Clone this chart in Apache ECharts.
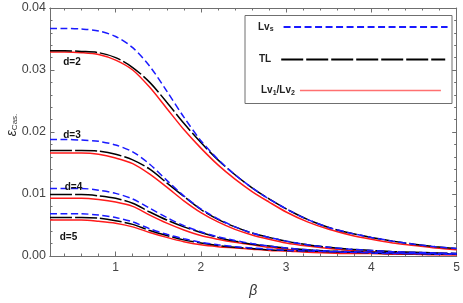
<!DOCTYPE html>
<html>
<head>
<meta charset="utf-8">
<script src="https://cdn.jsdelivr.net/npm/echarts@6/dist/echarts.min.js"></script>
<style>
html,body{margin:0;padding:0;background:#fff;}
#c{width:463px;height:303px;}
</style>
</head>
<body>
<div id="c"></div>
<script>
// ---- data ----
const beta = [0.23, 0.4, 0.6, 0.8, 1.0, 1.2, 1.4, 1.6, 1.8, 2.0, 2.2, 2.4, 2.6, 2.8, 3.0, 3.25, 3.5, 3.75, 4.0, 4.25, 4.5, 4.75, 5.0];

const lvs_d2 = [0.0367, 0.0367, 0.0366, 0.0363, 0.0354, 0.0336, 0.0306, 0.0266, 0.0224, 0.0186, 0.0156, 0.0131, 0.0110, 0.0092, 0.0076, 0.0059, 0.0046, 0.0037, 0.0030, 0.0024, 0.0019, 0.0015, 0.0012];
const tl_d2  = [0.0331, 0.0331, 0.0330, 0.0328, 0.0320, 0.0304, 0.0280, 0.0248, 0.0214, 0.0183, 0.0155, 0.0131, 0.0110, 0.0092, 0.0076, 0.0059, 0.0046, 0.0037, 0.0030, 0.0024, 0.0019, 0.0015, 0.0012];
const lv12_d2 = [0.0329, 0.0329, 0.0328, 0.0325, 0.0316, 0.0300, 0.0272, 0.0238, 0.0204, 0.0174, 0.0147, 0.0124, 0.0104, 0.0087, 0.0071, 0.0055, 0.0043, 0.0034, 0.0027, 0.0021, 0.0017, 0.0013, 0.0010];

const lvs_d3 = [0.0188, 0.0188, 0.0187, 0.0185, 0.0179, 0.0168, 0.0148, 0.0122, 0.0097, 0.0076, 0.0060, 0.0047, 0.0037, 0.0030, 0.0024, 0.0018, 0.0014, 0.0011, 0.0009, 0.0007, 0.0006, 0.0005, 0.0004];
const tl_d3  = [0.0170, 0.0170, 0.0170, 0.0169, 0.0164, 0.0155, 0.0140, 0.0118, 0.0096, 0.0075, 0.0059, 0.0047, 0.0037, 0.0030, 0.0024, 0.0018, 0.0014, 0.0011, 0.0009, 0.0007, 0.0006, 0.0005, 0.0004];
const lv12_d3 = [0.0166, 0.0166, 0.0166, 0.0164, 0.0158, 0.0149, 0.0132, 0.0111, 0.0089, 0.0070, 0.0055, 0.0043, 0.0034, 0.0027, 0.0021, 0.0016, 0.0012, 0.0009, 0.0007, 0.0006, 0.0005, 0.0004, 0.0003];

const lvs_d4 = [0.0109, 0.0109, 0.0109, 0.0106, 0.0101, 0.0092, 0.0077, 0.0062, 0.0049, 0.0039, 0.0031, 0.0025, 0.0020, 0.0016, 0.0013, 0.0010, 0.0008, 0.0007, 0.0006, 0.0005, 0.0004, 0.0004, 0.0003];
const tl_d4  = [0.0099, 0.0099, 0.0099, 0.0097, 0.0093, 0.0085, 0.0071, 0.0058, 0.0047, 0.0038, 0.0030, 0.0024, 0.0019, 0.0016, 0.0013, 0.0010, 0.0008, 0.0007, 0.0006, 0.0005, 0.0004, 0.0004, 0.0003];
const lv12_d4 = [0.0093, 0.0093, 0.0093, 0.0091, 0.0087, 0.0080, 0.0066, 0.0053, 0.0042, 0.0033, 0.0027, 0.0022, 0.0018, 0.0014, 0.0011, 0.0009, 0.0007, 0.0006, 0.0005, 0.0004, 0.0003, 0.0003, 0.0002];

const lvs_d5 = [0.0068, 0.0068, 0.0068, 0.0066, 0.0062, 0.0055, 0.0044, 0.0035, 0.0028, 0.0022, 0.0018, 0.0015, 0.0013, 0.0011, 0.0009, 0.0008, 0.0007, 0.0006, 0.0005, 0.0004, 0.0004, 0.0003, 0.0003];
const tl_d5  = [0.0062, 0.0062, 0.0062, 0.0061, 0.0057, 0.0051, 0.0041, 0.0033, 0.0026, 0.0021, 0.0017, 0.0014, 0.0012, 0.0010, 0.0009, 0.0008, 0.0007, 0.0006, 0.0005, 0.0004, 0.0004, 0.0003, 0.0003];
const lv12_d5 = [0.0058, 0.0058, 0.0058, 0.0056, 0.0053, 0.0047, 0.0038, 0.0030, 0.0023, 0.0018, 0.0015, 0.0013, 0.0011, 0.0009, 0.0008, 0.0006, 0.0005, 0.0004, 0.0004, 0.0003, 0.0003, 0.0002, 0.0002];

const xMajorTicks = [1, 2, 3, 4, 5];
const xMinorTicks = [0.4, 0.6, 0.8, 1.2, 1.4, 1.6, 1.8, 2.2, 2.4, 2.6, 2.8, 3.2, 3.4, 3.6, 3.8, 4.2, 4.4, 4.6, 4.8];
const dLabels = ['d=2', 'd=3', 'd=4', 'd=5'];
const seriesNames = ['Lvs', 'TL', 'Lv1/Lv2'];

// ---- chart ----
const chart = echarts.init(document.getElementById('c'), null, {renderer: 'canvas'});
const FONT = 'Liberation Sans, Arial, sans-serif';
const frameColor = '#6f6f6f';
const labelColor = '#444';

const styles = {
  'Lvs': {color: '#1a1aff', type: [7, 3.5], width: 1.5, z: 3},
  'TL': {color: '#000000', type: [22, 3], width: 1.5, z: 2},
  'Lv1/Lv2': {color: '#ff1a1a', type: 'solid', width: 1.5, z: 1}
};
const groups = [
  [lvs_d2, tl_d2, lv12_d2],
  [lvs_d3, tl_d3, lv12_d3],
  [lvs_d4, tl_d4, lv12_d4],
  [lvs_d5, tl_d5, lv12_d5]
];
const series = [];
groups.forEach(g => {
  g.forEach((arr, k) => {
    const nm = seriesNames[k];
    const st = styles[nm];
    series.push({
      type: 'line', name: nm, xAxisIndex: 0, yAxisIndex: 0,
      data: beta.map((b, i) => [b, arr[i]]),
      showSymbol: false, symbol: 'none', smooth: 0.3,
      z: st.z, silent: true,
      lineStyle: {color: st.color, type: st.type, width: st.width},
      itemStyle: {color: st.color}
    });
  });
});

function xAxisDef(pos, major, showLabel) {
  return {
    type: 'value', position: pos, min: 0.23, max: 5, gridIndex: 0,
    axisLine: {show: true, onZero: false, lineStyle: {color: frameColor, width: 1}},
    axisTick: {show: true, inside: true, length: major ? 4.5 : 2.5, customValues: major ? xMajorTicks : xMinorTicks, lineStyle: {color: frameColor}},
    axisLabel: {show: showLabel, customValues: xMajorTicks, margin: 6, color: labelColor, fontSize: 12, fontFamily: FONT},
    splitLine: {show: false}
  };
}
function yAxisDef(pos, showLabel) {
  return {
    type: 'value', position: pos, min: 0, max: 0.04, interval: 0.01, gridIndex: 0,
    axisLine: {show: true, onZero: false, lineStyle: {color: frameColor, width: 1}},
    axisTick: {show: true, inside: true, length: 4.5, lineStyle: {color: frameColor}},
    minorTick: {show: true, splitNumber: 5, length: 2.5, lineStyle: {color: frameColor}},
    axisLabel: {show: showLabel, margin: 4, color: labelColor, fontSize: 12.5, fontFamily: FONT, formatter: v => v.toFixed(2)},
    splitLine: {show: false}, minorSplitLine: {show: false}
  };
}

const xa0 = xAxisDef('bottom', true, true);
xa0.name = 'β';
xa0.nameLocation = 'middle';
xa0.nameGap = 28;
xa0.nameTextStyle = {fontStyle: 'italic', fontSize: 14, color: '#333', fontFamily: FONT};

const legendText = {fontSize: 10, fontWeight: 'bold', color: '#222', fontFamily: FONT,
  rich: {s: {fontSize: 7, fontWeight: 'bold', color: '#222', fontFamily: FONT, padding: [5, 0, 0, 0]},
         n: {fontSize: 10, fontWeight: 'bold', color: '#222', fontFamily: FONT},
         g: {width: 5}}};
const legendCommon = {padding: 0, z: 20, align: 'right', itemHeight: 10, textStyle: legendText,
  selectedMode: false, itemStyle: {opacity: 0, borderWidth: 0}};

const option = {
  animation: false,
  backgroundColor: '#fff',
  grid: {left: 50, right: 5.5, top: 8, bottom: 40.5, containLabel: false},
  xAxis: [xa0, xAxisDef('bottom', false, false), xAxisDef('top', true, false), xAxisDef('top', false, false)],
  yAxis: [yAxisDef('left', true), yAxisDef('right', false)],
  legend: [
    Object.assign({data: ['Lvs'], left: 258, top: 22, itemWidth: 164,
      formatter: () => '{n|Lv}{s|s}{g|}'}, legendCommon),
    Object.assign({data: ['TL'], left: 259, top: 54.5, itemWidth: 164,
      formatter: () => '{n|TL}{g|}'}, legendCommon),
    Object.assign({data: ['Lv1/Lv2'], left: 261, top: 85.5, itemWidth: 141,
      formatter: () => '{n|Lv}{s|1}{n|/Lv}{s|2}'}, legendCommon,
      {lineStyle: {color: '#ff7070', width: 1.3}})
  ],
  graphic: [
    {type: 'rect', left: 244.5, top: 15, z: 5, silent: true,
     shape: {width: 207, height: 88}, style: {fill: '#fff', stroke: '#6f6f6f', lineWidth: 1}},
    {type: 'text', x: 12, y: 125, rotation: Math.PI / 2, silent: true, z: 60,
     style: {text: '{e|ε}{c|Cas.}', align: 'center', verticalAlign: 'middle',
       rich: {e: {fontSize: 14, fontStyle: 'italic', fill: '#333', fontFamily: FONT},
              c: {fontSize: 8, fill: '#333', fontFamily: FONT, padding: [6, 0, 0, 0]}}}},
    {type: 'text', x: 72, y: 62, silent: true, z: 60,
     style: {text: dLabels[0], align: 'center', verticalAlign: 'middle', font: 'bold 10px ' + FONT, fill: '#111'}},
    {type: 'text', x: 72, y: 135, silent: true, z: 60,
     style: {text: dLabels[1], align: 'center', verticalAlign: 'middle', font: 'bold 10px ' + FONT, fill: '#111'}},
    {type: 'text', x: 73.5, y: 187, silent: true, z: 60,
     style: {text: dLabels[2], align: 'center', verticalAlign: 'middle', font: 'bold 10px ' + FONT, fill: '#111'}},
    {type: 'text', x: 68.5, y: 237.5, silent: true, z: 60,
     style: {text: dLabels[3], align: 'center', verticalAlign: 'middle', font: 'bold 10px ' + FONT, fill: '#111'}}
  ],
  series: series
};
chart.setOption(option);
</script>
</body>
</html>
